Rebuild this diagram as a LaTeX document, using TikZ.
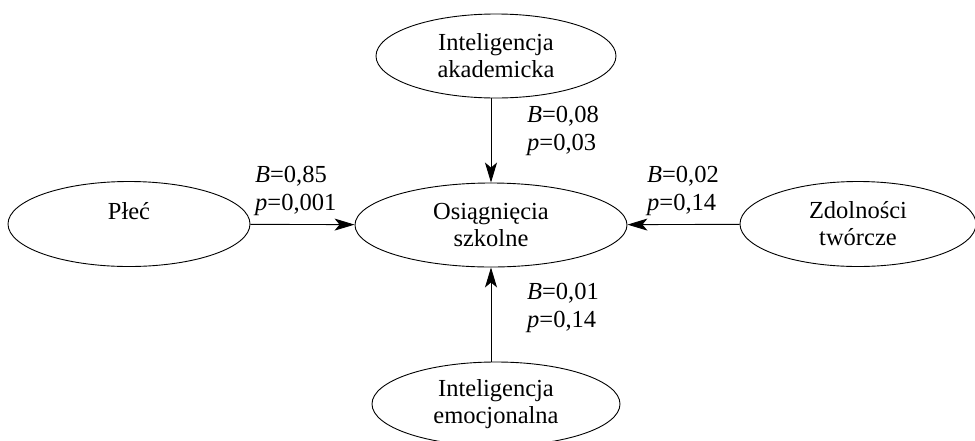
\documentclass[tikz,border=0pt]{standalone}
\usepackage{fontspec}
\setmainfont{Liberation Serif}
\usetikzlibrary{shapes.geometric,arrows.meta}
\begin{document}
\begin{tikzpicture}[x=1pt,y=1pt,
  ell/.style={draw, ellipse, line width=0.9pt, inner sep=0pt, align=center,
    font=\fontsize{24.5}{27}\selectfont},
  lab/.style={anchor=west, align=left, inner sep=0pt, font=\fontsize{24.5}{28}\selectfont},
  arr/.style={line width=0.9pt, -{Stealth[length=20pt,width=12pt,inset=5pt]}}]
\useasboundingbox (0,0) rectangle (975,-440);
\node[ell, minimum width=242, minimum height=85] (plec) at (129,-224) {Płeć\\\mbox{}};
\node[ell, minimum width=272, minimum height=84] (osi) at (491,-225) {Osiągnięcia\\szkolne};
\node[ell, minimum width=240, minimum height=84] (aka) at (496,-56) {Inteligencja\\akademicka};
\node[ell, minimum width=236, minimum height=85] (zdo) at (858,-224) {Zdolności\\twórcze};
\node[ell, minimum width=248, minimum height=84] (emo) at (496,-404) {Inteligencja\\emocjonalna};
\draw[arr] (plec) -- (osi);
\draw[arr] (zdo) -- (osi);
\draw[arr] (osi.north |- aka.south) -- (osi.north);
\draw[arr] (osi.south |- emo.north) -- (osi.south);
\node[lab] (l1) at (255,-191) {\textit{B}=0,85\\\textit{p}=0,001};
\node[lab] (l2) at (527,-131) {\textit{B}=0,08\\\textit{p}=0,03};
\node[lab] (l3) at (647,-191) {\textit{B}=0,02\\\textit{p}=0,14};
\node[lab] (l4) at (527,-308) {\textit{B}=0,01\\\textit{p}=0,14};
\end{tikzpicture}
\end{document}
